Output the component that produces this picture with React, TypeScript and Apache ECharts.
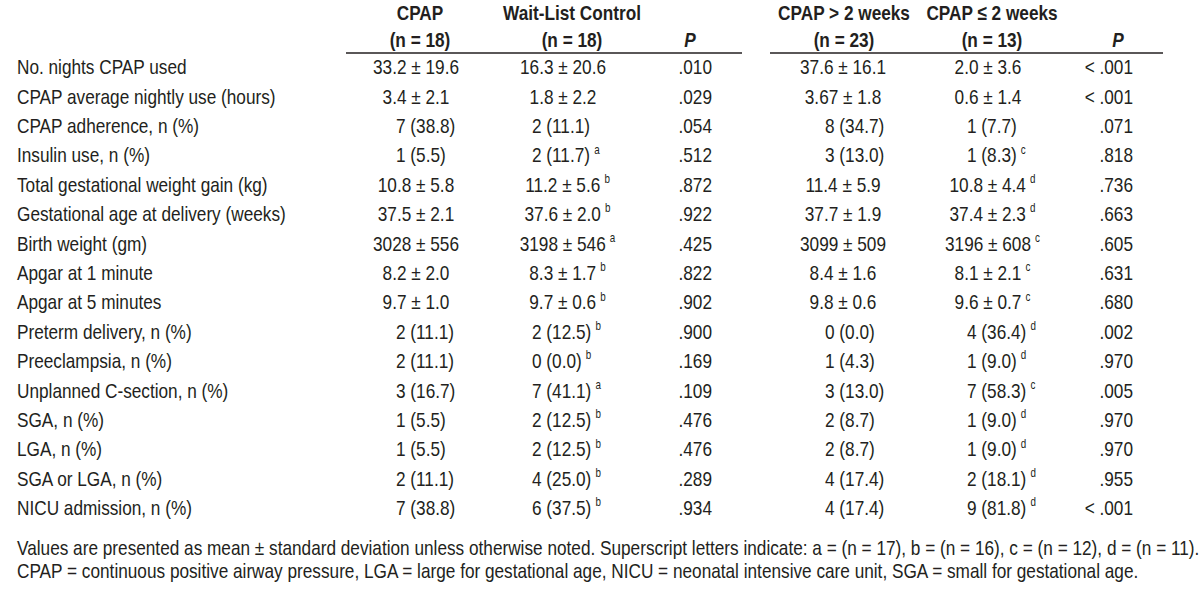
import React, { useEffect, useRef } from "react";
import * as echarts from "echarts";

// ---------- data ----------
const rowLabels = [
  "No. nights CPAP used",
  "CPAP average nightly use (hours)",
  "CPAP adherence, n (%)",
  "Insulin use, n (%)",
  "Total gestational weight gain (kg)",
  "Gestational age at delivery (weeks)",
  "Birth weight (gm)",
  "Apgar at 1 minute",
  "Apgar at 5 minutes",
  "Preterm delivery, n (%)",
  "Preeclampsia, n (%)",
  "Unplanned C-section, n (%)",
  "SGA, n (%)",
  "LGA, n (%)",
  "SGA or LGA, n (%)",
  "NICU admission, n (%)",
];

const cpapVals = [
  "33.2 ± 19.6", "3.4 ± 2.1", "7 (38.8)", "1 (5.5)", "10.8 ± 5.8", "37.5 ± 2.1",
  "3028 ± 556", "8.2 ± 2.0", "9.7 ± 1.0", "2 (11.1)", "2 (11.1)", "3 (16.7)",
  "1 (5.5)", "1 (5.5)", "2 (11.1)", "7 (38.8)",
];
const waitListVals = [
  "16.3 ± 20.6", "1.8 ± 2.2", "2 (11.1)", "2 (11.7)", "11.2 ± 5.6", "37.6 ± 2.0",
  "3198 ± 546", "8.3 ± 1.7", "9.7 ± 0.6", "2 (12.5)", "0 (0.0)", "7 (41.1)",
  "2 (12.5)", "2 (12.5)", "4 (25.0)", "6 (37.5)",
];
const waitListSup = ["", "", "", "a", "b", "b", "a", "b", "b", "b", "b", "a", "b", "b", "b", "b"];
const pTreatment = [
  ".010", ".029", ".054", ".512", ".872", ".922", ".425", ".822", ".902", ".900",
  ".169", ".109", ".476", ".476", ".289", ".934",
];
const cpapOver2Vals = [
  "37.6 ± 16.1", "3.67 ± 1.8", "8 (34.7)", "3 (13.0)", "11.4 ± 5.9", "37.7 ± 1.9",
  "3099 ± 509", "8.4 ± 1.6", "9.8 ± 0.6", "0 (0.0)", "1 (4.3)", "3 (13.0)",
  "2 (8.7)", "2 (8.7)", "4 (17.4)", "4 (17.4)",
];
const cpapUnder2Vals = [
  "2.0 ± 3.6", "0.6 ± 1.4", "1 (7.7)", "1 (8.3)", "10.8 ± 4.4", "37.4 ± 2.3",
  "3196 ± 608", "8.1 ± 2.1", "9.6 ± 0.7", "4 (36.4)", "1 (9.0)", "7 (58.3)",
  "1 (9.0)", "1 (9.0)", "2 (18.1)", "9 (81.8)",
];
const cpapUnder2Sup = ["", "", "", "c", "d", "d", "c", "c", "c", "d", "d", "c", "d", "d", "d", "d"];
const pDuration = [
  "< .001", "< .001", ".071", ".818", ".736", ".663", ".605", ".631", ".680", ".002",
  ".970", ".005", ".970", ".970", ".955", "< .001",
];

const headerTop = ["CPAP", "Wait-List Control", "", "CPAP > 2 weeks", "CPAP ≤ 2 weeks", ""];
const headerBottom = ["(n = 18)", "(n = 18)", "P", "(n = 23)", "(n = 13)", "P"];

const footnotes = [
  "Values are presented as mean ± standard deviation unless otherwise noted. Superscript letters indicate: a = (n = 17), b = (n = 16), c = (n = 12), d = (n = 11).",
  "CPAP = continuous positive airway pressure, LGA = large for gestational age, NICU = neonatal intensive care unit, SGA = small for gestational age.",
];

// ---------- layout ----------
const W = 1200;
const H = 591;
const FONT = "'Liberation Sans', Arial, sans-serif";
const FS = 21;
const SX = 0.82; // horizontal condensing to mimic a narrow face
const INK = "#231f20";
const ROW0 = 67;
const ROWH = 29.4;
const LABEL_X = 17;
const cols: any[] = [
  { center: 416, left: 396, head: 420 },
  { center: 563, left: 532, head: 572 },
  { right: 712, head: 690 },
  { center: 843, left: 825, head: 844 },
  { center: 988, left: 967, head: 992 },
  { right: 1133, head: 1118 },
];
const SUP_W = 11;

const richStyles = {
  v: { fontFamily: FONT, fontSize: FS, fill: INK, lineHeight: 24 },
  s: { fontFamily: FONT, fontSize: 12, fill: INK, lineHeight: 13, verticalAlign: "top", padding: [0, 0, 0, 5] },
  pad: { width: SUP_W },
};

function cellSeries(vals: string[], col: any, sups?: string[]) {
  const fmts: string[] = [];
  const aligns: string[] = [];
  const data = vals.map((v, i) => {
    const sup = sups ? sups[i] : "";
    let x: number;
    if (col.right !== undefined) {
      x = col.right;
      aligns.push("right");
      fmts.push(`{v|${v}}`);
    } else if (v.includes("±")) {
      x = col.center;
      aligns.push("center");
      fmts.push(sup ? `{pad|}{v|${v}}{s|${sup}}` : `{v|${v}}`);
    } else {
      x = col.left;
      aligns.push("left");
      fmts.push(sup ? `{v|${v}}{s|${sup}}` : `{v|${v}}`);
    }
    return [x, i];
  });
  return {
    type: "custom",
    silent: true,
    data,
    renderItem: (params: any, api: any) => {
      const pt = api.coord([api.value(0), api.value(1)]);
      const i = params.dataIndex;
      return {
        type: "text",
        x: pt[0],
        y: pt[1],
        scaleX: SX,
        style: {
          text: fmts[i],
          rich: richStyles,
          align: aligns[i],
          verticalAlign: "middle",
          fill: INK,
          fontFamily: FONT,
          fontSize: FS,
        },
      };
    },
  };
}

export default function App() {
  const ref = useRef<HTMLDivElement>(null);
  useEffect(() => {
    document.body.style.margin = "0";
    const chart = echarts.init(ref.current!, null, { renderer: "svg" });

    const graphics: any[] = [];
    cols.forEach((c, i) => {
      if (headerTop[i]) {
        graphics.push({
          type: "text", x: c.head, y: 13, scaleX: SX,
          style: { text: headerTop[i], fontFamily: FONT, fontSize: FS, fontWeight: "bold", fill: INK, align: "center", verticalAlign: "middle" },
        });
      }
      const isP = headerBottom[i] === "P";
      graphics.push({
        type: "text", x: c.head, y: 40, scaleX: SX,
        style: {
          text: headerBottom[i], fontFamily: FONT, fontSize: FS, fontWeight: "bold",
          fontStyle: isP ? "italic" : "normal",
          fill: INK, align: "center", verticalAlign: "middle",
        },
      });
    });
    graphics.push({ type: "line", shape: { x1: 346, y1: 53, x2: 742, y2: 53 }, style: { stroke: INK, lineWidth: 1.5 } });
    graphics.push({ type: "line", shape: { x1: 770, y1: 53, x2: 1163, y2: 53 }, style: { stroke: INK, lineWidth: 1.5 } });
    footnotes.forEach((t, i) => {
      graphics.push({
        type: "text", x: LABEL_X, y: 548 + i * 23, scaleX: SX,
        style: { text: t, fontFamily: FONT, fontSize: FS, fill: INK, align: "left", verticalAlign: "middle" },
      });
    });

    const nRows = rowLabels.length;
    const gridTop = ROW0 - ROWH / 2;
    const gridBottom = H - (gridTop + ROWH * nRows);
    const labelXs = rowLabels.map(() => LABEL_X);

    chart.setOption({
      animation: false,
      backgroundColor: "#ffffff",
      grid: { left: 0, right: 0, top: gridTop, bottom: gridBottom },
      xAxis: { type: "value", min: 0, max: W, show: false },
      yAxis: { type: "category", data: rowLabels, inverse: true, show: false },
      graphic: graphics,
      series: [
        {
          type: "custom",
          silent: true,
          data: labelXs.map((x, i) => [x, i]),
          renderItem: (params: any, api: any) => {
            const pt = api.coord([api.value(0), api.value(1)]);
            return {
              type: "text", x: pt[0], y: pt[1], scaleX: SX,
              style: {
                text: rowLabels[params.dataIndex], fontFamily: FONT, fontSize: FS, fill: INK,
                align: "left", verticalAlign: "middle",
              },
            };
          },
        },
        cellSeries(cpapVals, cols[0]),
        cellSeries(waitListVals, cols[1], waitListSup),
        cellSeries(pTreatment, cols[2]),
        cellSeries(cpapOver2Vals, cols[3]),
        cellSeries(cpapUnder2Vals, cols[4], cpapUnder2Sup),
        cellSeries(pDuration, cols[5]),
      ],
    });
    return () => chart.dispose();
  }, []);
  return <div ref={ref} style={{ width: W, height: H }} />;
}
